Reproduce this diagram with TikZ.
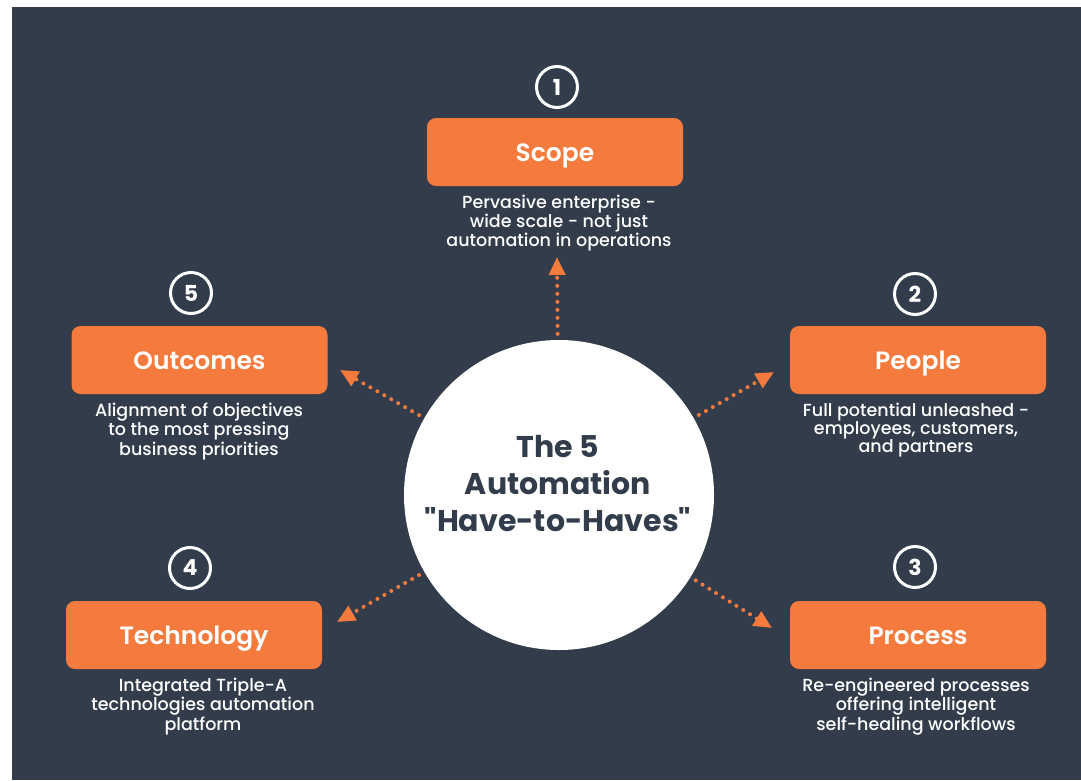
\documentclass[tikz,border=0pt]{standalone}
\usepackage{fontspec}
\setmainfont{Poppins}[BoldFont=Poppins SemiBold]
\newfontfamily\medfont{Poppins Medium}
\newfontfamily\heavyfont{Poppins Bold}
\usetikzlibrary{arrows.meta}
\definecolor{bg}{HTML}{323C4B}
\definecolor{accent}{HTML}{F47B3D}
\begin{document}
\begin{tikzpicture}[x=1pt,y=-1pt,
  card/.style={fill=accent, rounded corners=9pt, minimum width=256pt,
    minimum height=68pt, text=white, inner sep=0pt,
    text height=18pt, text depth=0pt,
    font=\fontsize{25}{30}\selectfont\bfseries},
  badge/.style={circle, draw=white, line width=3pt, minimum size=41pt,
    inner sep=0pt, text=white, font=\heavyfont\fontsize{22}{24}\selectfont},
  desc/.style={text=white, align=center, inner sep=0pt,
    font=\medfont\fontsize{17.5}{18}\selectfont},
  dotarrow/.style={accent, line width=4pt, line cap=round,
    dash pattern=on 0pt off 8pt, shorten <=6pt,
    -{Triangle[length=18pt,width=16pt]}}]
  \useasboundingbox (0,0) rectangle (1081,780);
  % background panel
  \fill[bg] (12,7) rectangle (1081,780);

  % central disc
  \node[circle, fill=white, minimum size=310pt, inner sep=0pt]
    (hub) at (559,495) {};
  \node[text=bg, align=center, inner sep=0pt,
    font=\heavyfont\fontsize{30}{37}\selectfont]
    (title) at (558,484)
    {The 5\\Automation\\\symbol{34}Have-to-Haves\symbol{34}};

  % 1 Scope
  \node[badge] (b1) at (557,87) {1};
  \node[card] (scope) at (555,152) {Scope};
  \node[desc, anchor=north] (d1) at (559,195)
    {Pervasive enterprise -\\wide scale - not just\\automation in operations};
  % 2 People
  \node[badge] (b2) at (915,294) {2};
  \node[card] (people) at (918,360) {People};
  \node[desc, anchor=north] (d2) at (916,403)
    {Full potential unleashed -\\employees, customers,\\and partners};
  % 3 Process
  \node[badge] (b3) at (915,567) {3};
  \node[card] (process) at (918,635) {Process};
  \node[desc, anchor=north] (d3) at (916,678)
    {Re-engineered processes\\offering intelligent\\self-healing workflows};
  % 4 Technology
  \node[badge] (b4) at (190,568) {4};
  \node[card] (tech) at (194,635) {Technology};
  \node[desc, anchor=north] (d4) at (203,678)
    {Integrated Triple-A\\technologies automation\\platform};
  % 5 Outcomes
  \node[badge] (b5) at (191,293) {5};
  \node[card] (outcomes) at (199.5,360) {Outcomes};
  \node[desc, anchor=north] (d5) at (199,403)
    {Alignment of objectives\\to the most pressing\\business priorities};

  % arrow tips
  \coordinate (t1) at (557,257);
  \coordinate (t2) at (774,372);
  \coordinate (t3) at (772,628);
  \coordinate (t4) at (337,622);
  \coordinate (t5) at (340,370);

  \draw[dotarrow] (hub) -- (t1);
  \draw[dotarrow] (hub) -- (t2);
  \draw[dotarrow] (hub) -- (t3);
  \draw[dotarrow] (hub) -- (t4);
  \draw[dotarrow] (hub) -- (t5);
\end{tikzpicture}
\end{document}
